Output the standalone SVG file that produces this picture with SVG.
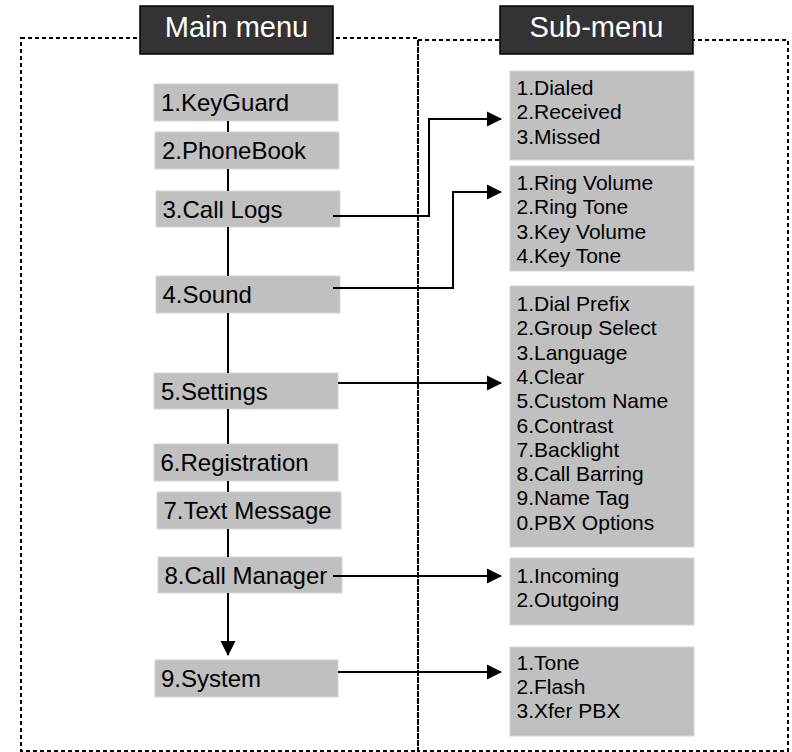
<svg xmlns="http://www.w3.org/2000/svg" width="792" height="752" viewBox="0 0 792 752">
<defs>
<marker id="arr" markerUnits="userSpaceOnUse" markerWidth="15" markerHeight="16" refX="14" refY="8" orient="auto">
<path d="M0,0.5 L15,8 L0,15.5 z" fill="#000"/>
</marker>
</defs>
<style>
.frame{fill:none;stroke:#000;stroke-width:2;stroke-dasharray:4 3}
.hdr{fill:#333333;stroke:#000;stroke-width:1.5}
.hdrt{font-family:"Liberation Sans",Arial,sans-serif;font-size:29px;fill:#fff;text-anchor:middle}
.item{fill:#c0c0c0;stroke:#d4d4d4;stroke-width:1}
.it{font-family:"Liberation Sans",Arial,sans-serif;font-size:24px;fill:#000}
.st{font-family:"Liberation Sans",Arial,sans-serif;font-size:21px;fill:#000}
.ln{fill:none;stroke:#000;stroke-width:2}
.arr{fill:none;stroke:#000;stroke-width:2;marker-end:url(#arr)}
</style>
<rect width="792" height="752" fill="#fff"/>
<g id="frames">
<rect class="frame" x="21" y="38" width="397" height="713"/>
<rect class="frame" x="418" y="40" width="370" height="711"/>
</g>
<g id="hdr-main"><rect class="hdr" x="140" y="6" width="193" height="48"/><text class="hdrt" x="236.5" y="37">Main menu</text></g>
<g id="hdr-sub"><rect class="hdr" x="500" y="6" width="193" height="48"/><text class="hdrt" x="596.5" y="37">Sub-menu</text></g>

<g id="m1"><rect class="item" x="154" y="84" width="184" height="37"/><text class="it" x="161" y="111">1.KeyGuard</text></g>
<g id="m2"><rect class="item" x="155" y="132" width="184" height="37"/><text class="it" x="162" y="159">2.PhoneBook</text></g>
<g id="m3"><rect class="item" x="156" y="191" width="184" height="36"/><text class="it" x="162.5" y="217.5">3.Call Logs</text></g>
<g id="m4"><rect class="item" x="156" y="276" width="184" height="37"/><text class="it" x="162.5" y="303">4.Sound</text></g>
<g id="m5"><rect class="item" x="154" y="373" width="184" height="36"/><text class="it" x="161" y="399.5">5.Settings</text></g>
<g id="m6"><rect class="item" x="154" y="444" width="184" height="37"/><text class="it" x="160.5" y="471">6.Registration</text></g>
<g id="m7"><rect class="item" x="157" y="492" width="184" height="37"/><text class="it" x="163.5" y="519">7.Text Message</text></g>
<g id="m8"><rect class="item" x="158" y="557" width="184" height="36"/><text class="it" x="164.5" y="583.5">8.Call Manager</text></g>
<g id="m9"><rect class="item" x="155" y="660" width="183" height="37"/><text class="it" x="161" y="687">9.System</text></g>

<g id="s1"><rect class="item" x="510" y="71" width="184" height="89"/>
<text class="st" x="516.5" y="95">1.Dialed</text><text class="st" x="516.5" y="119.3">2.Received</text><text class="st" x="516.5" y="143.6">3.Missed</text></g>
<g id="s2"><rect class="item" x="510" y="166" width="184" height="105"/>
<text class="st" x="516.5" y="190">1.Ring Volume</text><text class="st" x="516.5" y="214.3">2.Ring Tone</text><text class="st" x="516.5" y="238.6">3.Key Volume</text><text class="st" x="516.5" y="262.9">4.Key Tone</text></g>
<g id="s3"><rect class="item" x="510" y="286" width="184" height="261"/>
<text class="st" x="516.5" y="311">1.Dial Prefix</text><text class="st" x="516.5" y="335.3">2.Group Select</text><text class="st" x="516.5" y="359.6">3.Language</text><text class="st" x="516.5" y="383.9">4.Clear</text><text class="st" x="516.5" y="408.2">5.Custom Name</text><text class="st" x="516.5" y="432.5">6.Contrast</text><text class="st" x="516.5" y="456.8">7.Backlight</text><text class="st" x="516.5" y="481.1">8.Call Barring</text><text class="st" x="516.5" y="505.4">9.Name Tag</text><text class="st" x="516.5" y="529.7">0.PBX Options</text></g>
<g id="s4"><rect class="item" x="510" y="558" width="184" height="67"/>
<text class="st" x="516.5" y="583">1.Incoming</text><text class="st" x="516.5" y="607">2.Outgoing</text></g>
<g id="s5"><rect class="item" x="510" y="647" width="184" height="89"/>
<text class="st" x="516.5" y="670">1.Tone</text><text class="st" x="516.5" y="694">2.Flash</text><text class="st" x="516.5" y="718">3.Xfer PBX</text></g>

<g id="connectors">
<path class="ln" d="M228,121 V132 M228,169 V191 M228,227 V276 M228,313 V373 M228,409 V444 M228,481 V492 M228,529 V557"/>
<path class="arr" d="M228,593 V655"/>
<path class="arr" d="M333,216 H429 V119 H501"/>
<path class="arr" d="M333,288 H453 V192 H501"/>
<path class="arr" d="M338,383 H501"/>
<path class="arr" d="M333,576 H501"/>
<path class="arr" d="M338,672 H501"/>
</g>
</svg>
